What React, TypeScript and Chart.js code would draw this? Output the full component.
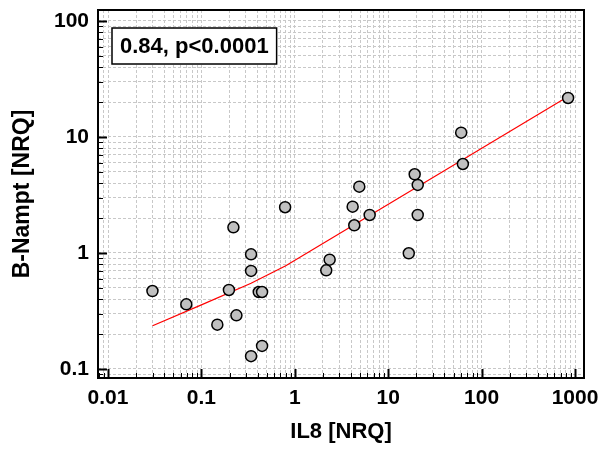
import React, { useEffect, useRef } from "react";
import { Chart, registerables } from "chart.js";

Chart.register(...registerables);

// IL8 [NRQ] (x) vs B-Nampt [NRQ] (y)
const il8 = [0.0299, 0.0689, 0.148, 0.237, 0.197, 0.22, 0.787, 0.34, 0.34, 0.411, 0.446, 0.34, 0.446, 2.17, 2.36, 4.33, 4.16, 6.33, 4.9, 16.6, 20.7, 20.7, 19.2, 63.0, 60.4, 843];
const bNampt = [0.47, 0.361, 0.241, 0.29, 0.48, 1.665, 2.48, 0.974, 0.7, 0.461, 0.461, 0.129, 0.158, 0.709, 0.876, 1.733, 2.506, 2.127, 3.73, 0.994, 2.127, 3.86, 4.77, 5.85, 10.9, 21.7];

// fitted curve
const fitX = [0.03, 0.1, 0.34, 0.8, 843];
const fitY = [0.236, 0.357, 0.548, 0.777, 22.3];

const xDecades = [-3, -2, -1, 0, 1, 2, 3];
const yDecades = [-2, -1, 0, 1, 2];
const xMin = 0.00781;
const xMax = 1248;
const yMin = 0.0836;
const yMax = 124.4;
const annotationText = "0.84, p<0.0001";
const xTitle = "IL8 [NRQ]";
const yTitle = "B-Nampt [NRQ]";

const FONT = "'Liberation Sans', Arial, sans-serif";

function buildTicks(decades: number[], min: number, max: number) {
  const out: number[] = [];
  for (const d of decades) {
    for (let m = 1; m <= 9; m++) {
      const v = Number((m * Math.pow(10, d)).toPrecision(6));
      if (v >= min && v <= max) out.push(v);
    }
  }
  return out;
}
const isMajor = (v: number) => {
  const l = Math.log10(v);
  return Math.abs(l - Math.round(l)) < 1e-9;
};

const xTicks = buildTicks(xDecades, xMin, xMax);
const yTicks = buildTicks(yDecades, yMin, yMax);

const framePlugin = {
  id: "framePlugin",
  afterDatasetsDraw(chart: any) {
    const { ctx, chartArea: a, scales } = chart;
    const x = scales.x;
    const y = scales.y;
    ctx.save();
    ctx.strokeStyle = "#000";
    for (const v of xTicks) {
      const px = Math.round(x.getPixelForValue(v)) + 0.5;
      const major = isMajor(v);
      ctx.lineWidth = major ? 2 : 1;
      ctx.beginPath();
      ctx.moveTo(px, a.bottom);
      ctx.lineTo(px, a.bottom - (major ? 9 : 5));
      ctx.stroke();
    }
    for (const v of yTicks) {
      const py = Math.round(y.getPixelForValue(v)) + 0.5;
      const major = isMajor(v);
      ctx.lineWidth = major ? 2 : 1;
      ctx.beginPath();
      ctx.moveTo(a.left, py);
      ctx.lineTo(a.left + (major ? 9 : 5), py);
      ctx.stroke();
    }
    ctx.lineWidth = 2;
    ctx.strokeRect(a.left, a.top, a.right - a.left, a.bottom - a.top);

    // annotation box
    const bx = a.left + 14;
    const by = a.top + 18;
    ctx.font = `bold 22px ${FONT}`;
    const tw = ctx.measureText(annotationText).width;
    const bw = tw + 16;
    const bh = 36;
    ctx.fillStyle = "#fff";
    ctx.fillRect(bx, by, bw, bh);
    ctx.lineWidth = 1.5;
    ctx.strokeRect(bx, by, bw, bh);
    ctx.fillStyle = "#000";
    ctx.textAlign = "left";
    ctx.textBaseline = "middle";
    ctx.fillText(annotationText, bx + 8, by + bh / 2 + 1);
    ctx.restore();
  },
};

export default function App() {
  const ref = useRef<HTMLCanvasElement | null>(null);
  useEffect(() => {
    if (!ref.current) return;
    const chart = new Chart(ref.current, {
      type: "scatter",
      data: {
        datasets: [
          {
            label: "points",
            data: il8.map((v, i) => ({ x: v, y: bNampt[i] })),
            backgroundColor: "#c0c0c0",
            borderColor: "#000",
            borderWidth: 1.5,
            pointRadius: 5.5,
            order: 0,
          },
          {
            type: "line",
            label: "fit",
            data: fitX.map((v, i) => ({ x: v, y: fitY[i] })),
            borderColor: "#ff0000",
            borderWidth: 1.2,
            pointRadius: 0,
            fill: false,
            tension: 0,
            order: 1,
          } as any,
        ],
      },
      options: {
        animation: false,
        responsive: true,
        maintainAspectRatio: false,
        layout: { padding: { left: 0, top: 10, right: 26, bottom: 0 } },
        plugins: { legend: { display: false }, tooltip: { enabled: false } },
        scales: {
          x: {
            type: "logarithmic",
            min: xMin,
            max: xMax,
            afterBuildTicks: (s: any) => {
              s.ticks = xTicks.map((v) => ({ value: v }));
            },
            afterFit: (s: any) => {
              s.height = 75;
              s.paddingLeft = 0;
              s.paddingRight = 0;
            },
            grid: { color: "#c8c8c8", lineWidth: 1, drawTicks: false },
            border: { display: false, dash: [3, 2] },
            ticks: {
              autoSkip: false,
              maxRotation: 0,
              padding: 8,
              color: "#000",
              font: { family: FONT, size: 21, weight: "bold" },
              callback: (v: any) => (isMajor(Number(v)) ? String(Number(v)) : ""),
            },
            title: {
              display: true,
              text: xTitle,
              color: "#000",
              font: { family: FONT, size: 22, weight: "bold" },
              padding: { top: 0, bottom: 8 },
            },
          },
          y: {
            type: "logarithmic",
            min: yMin,
            max: yMax,
            afterBuildTicks: (s: any) => {
              s.ticks = yTicks.map((v) => ({ value: v }));
            },
            afterFit: (s: any) => {
              s.width = 98;
              s.paddingTop = 0;
              s.paddingBottom = 0;
            },
            grid: { color: "#c8c8c8", lineWidth: 1, drawTicks: false },
            border: { display: false, dash: [3, 2] },
            ticks: {
              autoSkip: false,
              padding: 9,
              color: "#000",
              font: { family: FONT, size: 21, weight: "bold" },
              callback: (v: any) => (isMajor(Number(v)) ? String(Number(v)) : ""),
            },
            title: {
              display: true,
              text: yTitle,
              color: "#000",
              font: { family: FONT, size: 23, weight: "bold" },
              padding: { top: 9, bottom: 0 },
            },
          },
        },
      },
      plugins: [framePlugin],
    });
    return () => chart.destroy();
  }, []);
  return (
    <div style={{ position: "fixed", left: 0, top: 0, width: 610, height: 453, background: "#fff" }}>
      <canvas ref={ref} width={610} height={453} />
    </div>
  );
}
